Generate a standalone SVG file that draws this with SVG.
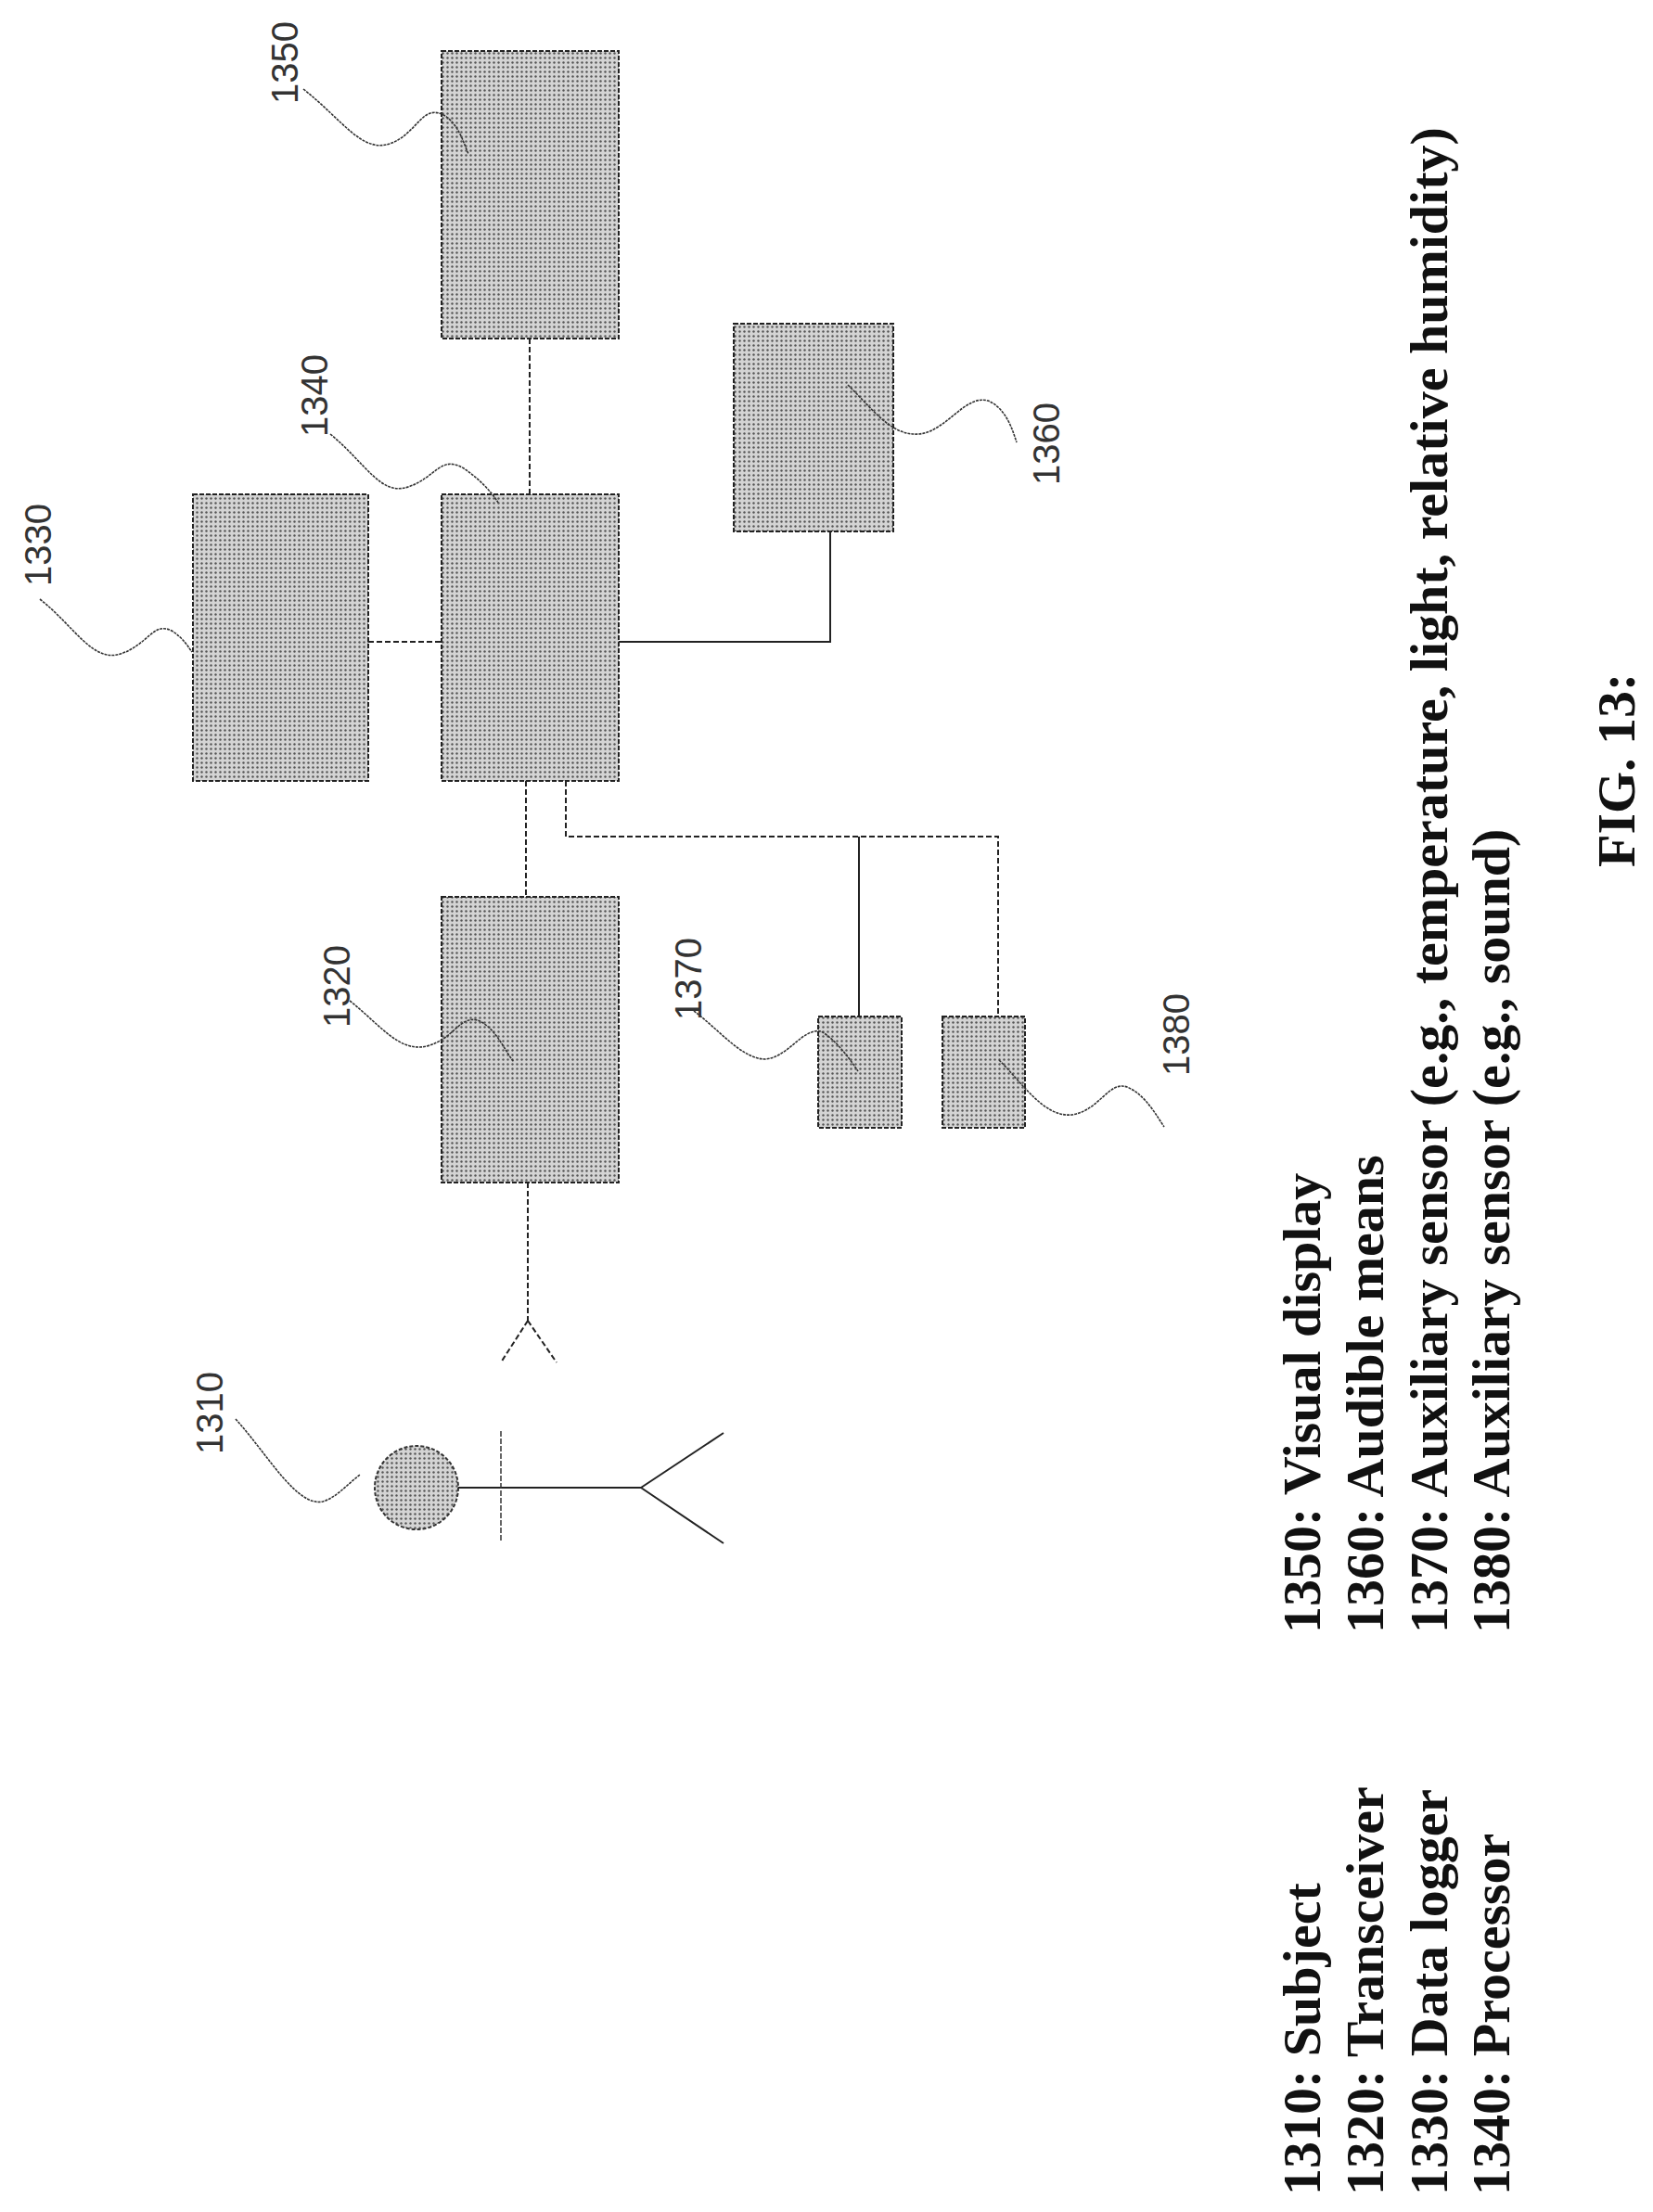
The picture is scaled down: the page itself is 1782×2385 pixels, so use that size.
<svg xmlns="http://www.w3.org/2000/svg" width="1782" height="2385" viewBox="0 0 1782 2385">
<defs>
<pattern id="dots" width="5" height="5" patternUnits="userSpaceOnUse">
<rect width="5" height="5" fill="#d4d4d4"/>
<circle cx="2.5" cy="2.5" r="1.2" fill="#555"/>
</pattern>
<style>
.box{fill:url(#dots);stroke:#222;stroke-width:2;stroke-dasharray:5 2}
.dash{fill:none;stroke:#222;stroke-width:2;stroke-dasharray:6 3}
.solid{fill:none;stroke:#222;stroke-width:2}
.lead{fill:none;stroke:#333;stroke-width:1.6;stroke-dasharray:3 1}
.num{font-family:"Liberation Sans",Arial,sans-serif;font-size:40px;fill:#333}
.leg{font-family:"Liberation Serif","Times New Roman",serif;font-size:58px;font-weight:bold;fill:#111}
</style>
</defs>
<g id="connectors">
<path class="dash" d="M571 365V533"/>
<path class="dash" d="M397 692H476"/>
<path class="solid" d="M667 692H895V573"/>
<path class="dash" d="M567 842V967"/>
<path class="dash" d="M610 842V902H1076V1096"/>
<path class="solid" stroke-width="3" d="M926 902V1096"/>
<path class="dash" d="M569 1275V1424M569 1424L540 1469M569 1424L600 1469"/>
</g>
<g id="n1350"><rect class="box" x="476" y="55" width="191" height="310"/>
<path class="lead" d="M327 96C370 130 390 165 420 155C450 145 455 110 480 125C495 135 500 155 505 166"/>
<text class="num" transform="translate(321,112) rotate(-90)">1350</text></g>
<g id="n1330"><rect class="box" x="208" y="533" width="189" height="309"/>
<path class="lead" d="M43 646C80 675 100 715 130 705C160 695 165 670 185 680C198 688 203 698 207 703"/>
<text class="num" transform="translate(55,632) rotate(-90)">1330</text></g>
<g id="n1340"><rect class="box" x="476" y="533" width="191" height="309"/>
<path class="lead" d="M356 468C395 500 410 535 440 525C470 515 475 490 500 505C515 515 530 530 537 542"/>
<text class="num" transform="translate(353,471) rotate(-90)">1340</text></g>
<g id="n1360"><rect class="box" x="791" y="349" width="172" height="224"/>
<path class="lead" d="M914 415C940 440 960 470 990 468C1020 466 1040 425 1065 432C1085 440 1092 465 1096 477"/>
<text class="num" transform="translate(1142,523) rotate(-90)">1360</text></g>
<g id="n1320"><rect class="box" x="476" y="967" width="191" height="308"/>
<path class="lead" d="M377 1079C410 1105 430 1135 460 1128C490 1120 495 1095 515 1100C535 1108 545 1135 554 1145"/>
<text class="num" transform="translate(377,1108) rotate(-90)">1320</text></g>
<g id="n1370"><rect class="box" x="882" y="1096" width="90" height="120"/>
<path class="lead" d="M748 1090C775 1110 800 1142 825 1142C850 1140 865 1108 885 1112C900 1120 915 1140 925 1155"/>
<text class="num" transform="translate(756,1100) rotate(-90)">1370</text></g>
<g id="n1380"><rect class="box" x="1016" y="1096" width="89" height="120"/>
<path class="lead" d="M1077 1143C1100 1165 1125 1205 1155 1202C1185 1198 1195 1165 1215 1172C1235 1180 1248 1205 1255 1215"/>
<text class="num" transform="translate(1282,1160) rotate(-90)">1380</text></g>
<g id="n1310">
<circle cx="449" cy="1604" r="45" fill="url(#dots)" stroke="#333" stroke-width="2" stroke-dasharray="4 2"/>
<path class="solid" d="M494 1604H691M691 1604L780 1545M691 1604L780 1664"/>
<path fill="none" stroke="#333" stroke-width="1.5" stroke-dasharray="6 2" d="M540 1543V1663"/>
<path class="lead" d="M254 1530C290 1570 320 1625 348 1619C362 1615 375 1600 388 1590"/>
<text class="num" transform="translate(240,1568) rotate(-90)">1310</text></g>
<g id="legend">
<text class="leg" transform="translate(1423,2367) rotate(-90)">1310: Subject</text>
<text class="leg" transform="translate(1491,2367) rotate(-90)">1320: Transceiver</text>
<text class="leg" transform="translate(1560,2367) rotate(-90)">1330: Data logger</text>
<text class="leg" transform="translate(1627,2367) rotate(-90)">1340: Processor</text>
<text class="leg" transform="translate(1423,1761) rotate(-90)">1350: Visual display</text>
<text class="leg" transform="translate(1491,1761) rotate(-90)">1360: Audible means</text>
<text class="leg" transform="translate(1560,1761) rotate(-90)">1370: Auxiliary sensor (e.g., temperature, light, relative humidity)</text>
<text class="leg" transform="translate(1627,1761) rotate(-90)">1380: Auxiliary sensor (e.g., sound)</text>
<text class="leg" transform="translate(1762,935) rotate(-90)">FIG. 13:</text>
</g>
</svg>
